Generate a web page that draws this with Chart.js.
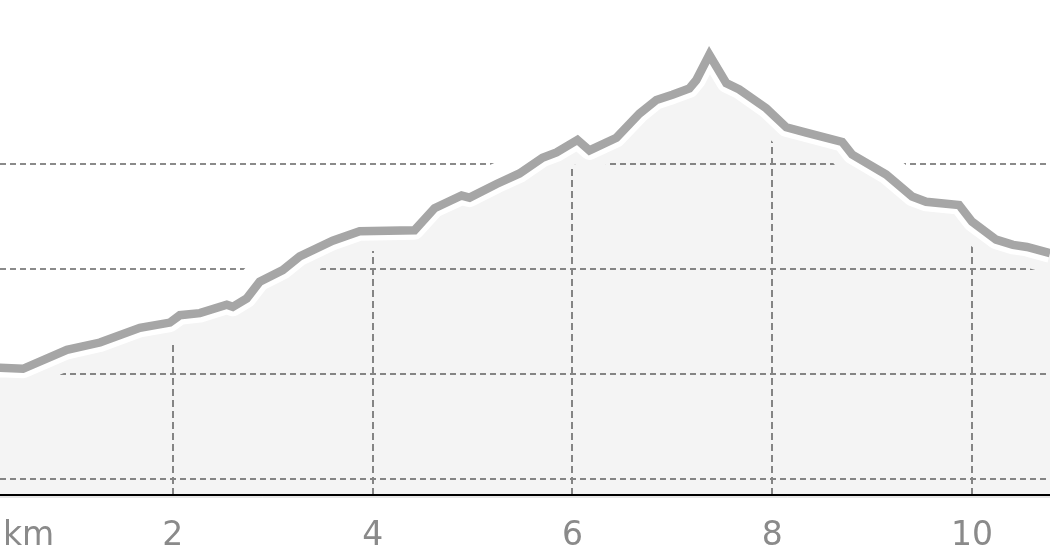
<!DOCTYPE html>
<html>
<head>
<meta charset="utf-8">
<script src="https://cdn.jsdelivr.net/npm/chart.js@4.4.0/dist/chart.umd.min.js"></script>
<style>
  html, body { margin: 0; padding: 0; background: #ffffff; }
  #wrap { width: 1050px; height: 560px; position: relative; }
</style>
</head>
<body>
<div id="wrap"><canvas id="c"></canvas></div>
<script>
// Distance along the route (km) and elevation (m)
const distanceKm = [0.00, 0.27, 0.50, 0.94, 1.27, 1.67, 1.97, 2.07, 2.27, 2.54, 2.60, 2.74, 2.87, 3.10, 3.27, 3.60, 3.87, 4.42, 4.62, 4.89, 4.97, 5.24, 5.47, 5.70, 5.84, 6.05, 6.17, 6.44, 6.67, 6.84, 7.00, 7.17, 7.24, 7.37, 7.54, 7.67, 7.94, 8.14, 8.34, 8.70, 8.80, 9.14, 9.40, 9.54, 9.87, 10.00, 10.24, 10.41, 10.55, 10.78, 10.90];
const elevationM = [300, 306, 305, 323, 330, 344, 349, 356, 358, 366, 364, 372, 388, 399, 412, 427, 436, 437, 458, 470, 468, 481, 491, 506, 511, 523, 513, 525, 548, 561, 566, 572, 580, 604, 577, 571, 553, 535, 530, 521, 509, 490, 469, 464, 461, 445, 428, 423, 421, 415, 411];
// Axis ticks
const distanceTicks = [2, 4, 6, 8, 10];
const elevationGrid = [200, 300, 400, 500];
const unitLabel = 'km';

const points = distanceKm.map((d, i) => ({ x: d, y: elevationM[i] }));

function elevAt(km) {
  for (let i = 0; i < distanceKm.length - 1; i++) {
    if (km >= distanceKm[i] && km <= distanceKm[i + 1]) {
      const t = (km - distanceKm[i]) / (distanceKm[i + 1] - distanceKm[i]);
      return elevationM[i] + t * (elevationM[i + 1] - elevationM[i]);
    }
  }
  return elevationM[elevationM.length - 1];
}

const gridPlugin = {
  id: 'customGrid',
  beforeDatasetsDraw(chart) {
    const { ctx, chartArea, scales } = chart;
    const xs = scales.x, ys = scales.y;
    ctx.save();
    ctx.beginPath();
    ctx.rect(chartArea.left, chartArea.top, chartArea.right - chartArea.left, chartArea.bottom - chartArea.top);
    ctx.clip();
    ctx.strokeStyle = '#8a8a8a';
    ctx.lineWidth = 2;
    ctx.setLineDash([6, 4]);
    elevationGrid.forEach(v => {
      const y = Math.round(ys.getPixelForValue(v));
      ctx.beginPath();
      ctx.moveTo(chartArea.left, y);
      ctx.lineTo(chartArea.right, y);
      ctx.stroke();
    });
    ctx.setLineDash([7, 4]);
    distanceTicks.forEach(v => {
      const x = Math.round(xs.getPixelForValue(v));
      const yTop = ys.getPixelForValue(elevAt(v));
      ctx.beginPath();
      ctx.moveTo(x, chartArea.bottom);
      ctx.lineTo(x, yTop);
      ctx.stroke();
    });
    ctx.restore();
  },
  afterDraw(chart) {
    const { ctx, chartArea } = chart;
    ctx.save();
    ctx.strokeStyle = '#cfcfcf';
    ctx.lineWidth = 1;
    ctx.beginPath();
    ctx.moveTo(chartArea.left, chartArea.bottom + 2);
    ctx.lineTo(chartArea.right, chartArea.bottom + 2);
    ctx.stroke();
    ctx.strokeStyle = '#000000';
    ctx.lineWidth = 2;
    ctx.beginPath();
    ctx.moveTo(chartArea.left, chartArea.bottom);
    ctx.lineTo(chartArea.right, chartArea.bottom);
    ctx.stroke();
    ctx.fillStyle = '#8a8a8a';
    ctx.font = '33px "DejaVu Sans"';
    ctx.textAlign = 'left';
    ctx.textBaseline = 'alphabetic';
    ctx.fillText(unitLabel, chartArea.left + 3, 545);
    ctx.restore();
  }
};

new Chart(document.getElementById('c'), {
  type: 'line',
  data: {
    datasets: [
      { data: points, borderColor: '#ffffff', borderWidth: 40, borderJoinStyle: 'round', borderCapStyle: 'round', pointRadius: 0, fill: false, order: 4 },
      { data: points, borderWidth: 0, borderColor: 'rgba(0,0,0,0)', backgroundColor: 'rgba(0,0,0,0.045)', pointRadius: 0, fill: 'start', order: 3 },
      { data: points, borderColor: '#ffffff', borderWidth: 19, borderJoinStyle: 'round', pointRadius: 0, fill: false, order: 2 },
      { data: points, borderColor: '#a6a6a6', borderWidth: 8.5, borderJoinStyle: 'miter', pointRadius: 0, fill: false, order: 1 }
    ]
  },
  options: {
    responsive: true,
    maintainAspectRatio: false,
    animation: false,
    layout: { padding: 0 },
    plugins: { legend: { display: false }, tooltip: { enabled: false } },
    elements: { line: { tension: 0 } },
    scales: {
      x: {
        type: 'linear',
        min: 0.27,
        max: 10.78,
        afterBuildTicks: s => { s.ticks = distanceTicks.map(v => ({ value: v })); },
        afterFit: s => { s.height = 65; },
        grid: { display: false, drawTicks: false },
        border: { display: false },
        ticks: {
          padding: 22,
          maxRotation: 0,
          autoSkip: false,
          color: '#8a8a8a',
          font: { family: 'DejaVu Sans', size: 33 },
          callback: v => String(v)
        }
      },
      y: {
        display: false,
        min: 184.8,
        max: 656.2,
        afterBuildTicks: s => { s.ticks = elevationGrid.map(v => ({ value: v })); }
      }
    }
  },
  plugins: [gridPlugin]
});
</script>
</body>
</html>
